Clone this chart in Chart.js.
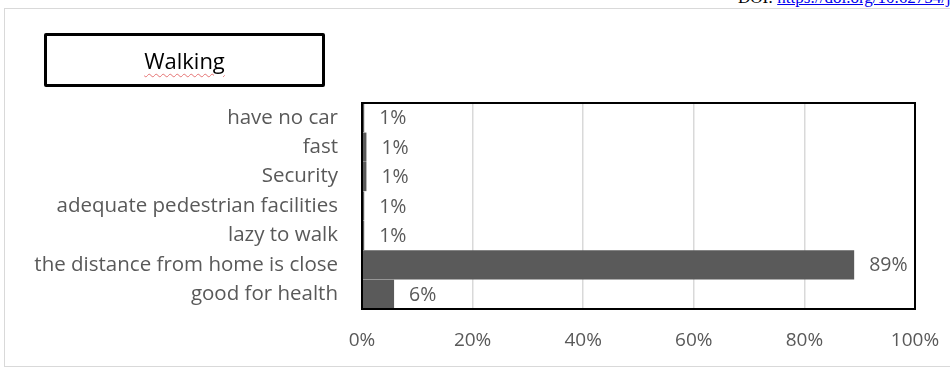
<!DOCTYPE html>
<html>
<head>
<meta charset="utf-8">
<script src="https://cdn.jsdelivr.net/npm/chart.js@4"></script>
<style>
  html, body { margin: 0; padding: 0; background: #fff; }
  body { width: 950px; height: 368px; position: relative; overflow: hidden; }
  #frame { position: absolute; left: 4px; top: 8px; width: 960px; height: 357px; border: 1px solid #d9d9d9; }
  #doi { position: absolute; left: 738px; top: -12px; font-family: "Liberation Serif", serif; font-size: 17px; color: #000; white-space: nowrap; }
  #doi a { color: #0000ee; }
  #title { position: absolute; left: 44px; top: 33px; width: 275px; height: 48px; border: 3px solid #000; border-radius: 2px;
           font-family: "Open Sans", sans-serif; font-size: 22px; text-align: center; line-height: 48px; color: #000; }
  #title span { text-decoration: underline wavy #e57373 1px; text-underline-offset: 4px; }
  #wrap { position: absolute; left: 0; top: 0; width: 950px; height: 368px; }
</style>
</head>
<body>
<div id="frame"></div>
<div id="doi">DOI: <a href="#">https://doi.org/10.62754/joe.v3i8</a></div>
<div id="wrap"><canvas id="chart" width="950" height="368"></canvas></div>
<div id="title"><span>Walking</span></div>
<script>
// Dados do gráfico
const categories = ['have no car', 'fast', 'Security', 'adequate pedestrian facilities', 'lazy to walk', 'the distance from home is close', 'good for health'];
const values = [0.4, 0.8, 0.8, 0.4, 0.4, 89, 5.8];
const xTicks = [0, 20, 40, 60, 80, 100];

const FONT = '"Open Sans", sans-serif';

// Rótulos de valor à direita das barras
const valueLabels = {
  id: 'valueLabels',
  afterDatasetsDraw(chart) {
    const ctx = chart.ctx;
    const meta = chart.getDatasetMeta(0);
    ctx.save();
    ctx.font = '19.5px ' + FONT;
    ctx.fillStyle = '#595959';
    ctx.textBaseline = 'middle';
    ctx.textAlign = 'left';
    meta.data.forEach((bar, i) => {
      ctx.fillText(Math.ceil(values[i]) + '%', bar.x + 15, bar.y + 1);
    });
    ctx.restore();
  }
};

// Moldura preta da área do gráfico
const plotFrame = {
  id: 'plotFrame',
  afterDraw(chart) {
    const a = chart.chartArea;
    const ctx = chart.ctx;
    ctx.save();
    ctx.strokeStyle = '#000';
    ctx.lineWidth = 2;
    ctx.strokeRect(a.left, a.top, a.right - a.left, a.bottom - a.top);
    ctx.restore();
  }
};

new Chart(document.getElementById('chart'), {
  type: 'bar',
  data: {
    labels: categories,
    datasets: [{
      data: values,
      backgroundColor: '#5a5a5a',
      borderWidth: 0,
      barPercentage: 0.99,
      categoryPercentage: 1
    }]
  },
  options: {
    indexAxis: 'y',
    responsive: false,
    animation: false,
    devicePixelRatio: 1,
    layout: { padding: { top: 103, right: 35, bottom: 0, left: 0 } },
    plugins: { legend: { display: false }, tooltip: { enabled: false } },
    scales: {
      x: {
        min: 0,
        max: 100,
        afterBuildTicks: (scale) => { scale.ticks = xTicks.map(v => ({ value: v })); },
        afterFit: (scale) => { scale.height = 59; },
        afterUpdate: (scale) => { scale.paddingRight = 0; },
        grid: { color: '#d9d9d9', drawTicks: false, lineWidth: 1.5 },
        border: { display: false },
        ticks: {
          padding: 20,
          color: '#595959',
          font: { family: FONT, size: 19 },
          callback: (v) => v + '%'
        }
      },
      y: {
        afterFit: (scale) => { scale.width = 362; },
        grid: { display: false, drawTicks: false },
        border: { display: false },
        ticks: {
          padding: 24,
          color: '#595959',
          font: { family: FONT, size: 20.5 }
        }
      }
    }
  },
  plugins: [valueLabels, plotFrame]
});
</script>
</body>
</html>
